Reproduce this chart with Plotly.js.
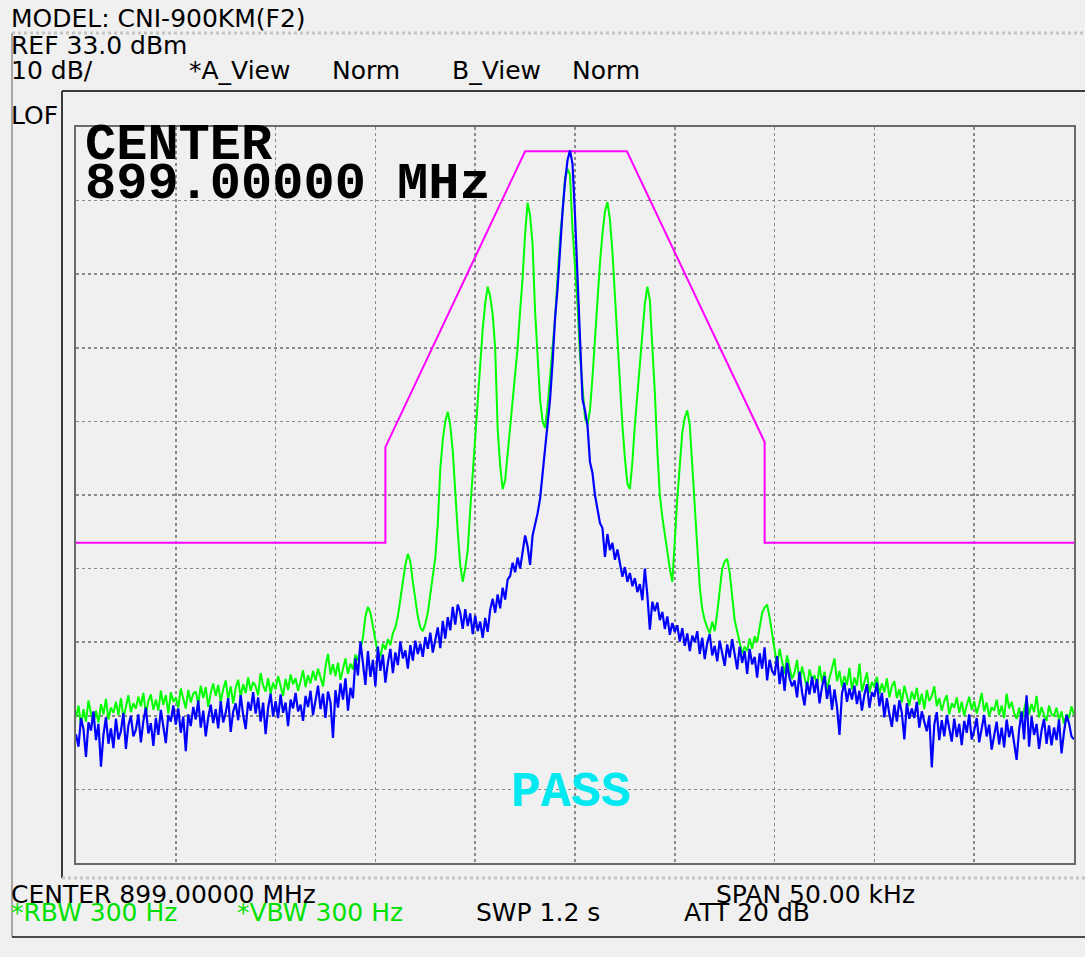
<!DOCTYPE html>
<html>
<head>
<meta charset="utf-8">
<script src="https://cdn.plot.ly/plotly-3.0.1.min.js"></script>
<style>
html,body{margin:0;padding:0;background:#f0f0f0;}
#chart{width:1085px;height:957px;}
</style>
</head>
<body>
<div id="chart"></div>
<script>
// Sweep: center 899.00000 MHz, span 50 kHz -> offsets in kHz
var freqStart = -25;      // kHz
var freqStep = 0.125;     // kHz per trace point
var refLevel = 33;        // dBm (top of screen)
var dbPerDiv = 10;

// Trace B (blue), dBm
var traceBlue = [
-49.5,-51.2,-47.3,-48.8,-52.6,-47.9,-49.0,-46.4,
-50.3,-48.1,-53.9,-49.6,-47.2,-50.8,-48.7,-51.4,
-47.4,-50.2,-49.1,-46.6,-51.5,-48.3,-47.0,-49.8,
-48.9,-46.8,-50.6,-47.7,-45.9,-49.4,-48.0,-51.1,
-47.3,-49.6,-46.2,-48.5,-50.7,-46.9,-47.8,-45.6,
-48.2,-46.0,-49.3,-47.1,-51.8,-46.8,-48.4,-45.8,
-47.5,-44.9,-48.6,-46.3,-49.8,-47.2,-45.5,-48.0,
-46.1,-48.7,-45.0,-47.9,-46.6,-44.6,-49.2,-46.4,
-45.3,-47.6,-44.2,-46.9,-48.8,-45.1,-46.3,-43.8,
-46.7,-44.5,-47.8,-45.2,-49.5,-45.9,-44.0,-47.1,
-45.0,-47.3,-44.1,-46.6,-45.2,-48.4,-44.8,-46.0,
-43.9,-46.4,-45.5,-47.7,-44.3,-45.8,-43.6,-46.9,
-44.8,-42.9,-46.1,-44.0,-47.3,-43.7,-45.2,-50.0,
-43.5,-45.9,-42.6,-44.8,-41.9,-46.3,-43.2,-44.6,
-39.2,-41.5,-36.9,-40.1,-42.8,-38.2,-41.7,-39.4,
-43.0,-37.6,-40.9,-38.7,-42.5,-39.8,-37.9,-41.2,
-38.4,-40.1,-36.9,-39.2,-38.1,-40.6,-37.4,-39.5,
-36.8,-38.6,-37.2,-39.0,-36.3,-37.9,-35.7,-38.4,
-36.9,-35.0,-37.8,-34.1,-36.5,-33.6,-35.4,-32.2,
-34.6,-31.9,-33.0,-35.2,-32.5,-34.8,-33.1,-35.9,
-33.4,-35.5,-34.2,-36.4,-33.7,-35.6,-32.6,-31.1,
-33.0,-30.5,-32.4,-29.6,-31.2,-28.5,-28.0,-26.2,
-27.5,-25.5,-27.0,-25.0,-22.5,-24.0,-26.5,-22.5,
-21.0,-19.5,-17.5,-14.0,-11.0,-8.0,-4.0,1.0,
7.0,11.0,16.5,21.5,25.5,28.5,29.8,28.0,
21.0,13.0,5.0,-4.0,-5.5,-7.5,-12.5,-14.0,
-17.0,-19.0,-20.8,-21.5,-25.4,-22.3,-24.5,-23.5,
-25.8,-24.4,-26.5,-28.1,-26.8,-28.8,-27.6,-29.4,
-28.3,-30.2,-29.1,-31.3,-27.0,-30.6,-35.3,-31.5,
-32.8,-31.6,-34.0,-32.9,-35.2,-33.5,-36.0,-34.4,
-35.6,-34.7,-36.9,-35.1,-37.5,-35.8,-38.2,-36.1,
-37.0,-35.5,-38.6,-36.4,-39.3,-37.1,-35.9,-38.8,
-37.5,-39.6,-36.8,-38.4,-40.2,-37.3,-39.1,-36.6,
-38.9,-40.7,-37.6,-39.8,-38.2,-41.3,-37.9,-40.0,
-39.0,-41.8,-38.5,-40.6,-37.7,-42.2,-39.4,-40.9,
-41.5,-38.9,-42.7,-40.3,-43.6,-39.8,-41.9,-43.0,
-42.2,-44.5,-41.0,-43.8,-45.6,-42.4,-44.1,-41.7,
-43.9,-42.0,-45.3,-43.1,-41.6,-44.7,-42.8,-46.2,
-43.4,-45.8,-49.6,-44.0,-42.5,-45.1,-43.3,-44.8,
-42.9,-45.4,-43.6,-46.3,-44.1,-42.7,-45.9,-43.8,
-44.4,-42.5,-45.7,-43.9,-47.2,-44.6,-46.8,-48.5,
-45.5,-47.8,-44.9,-46.6,-50.2,-45.3,-47.4,-46.0,
-47.3,-45.1,-48.6,-46.4,-47.8,-49.1,-47.0,-54.0,
-48.2,-46.5,-50.3,-47.6,-49.8,-46.9,-48.7,-50.5,
-47.4,-49.9,-48.1,-51.0,-47.7,-49.3,-46.8,-50.2,
-49.0,-47.3,-50.6,-48.5,-46.9,-49.8,-48.2,-51.6,
-49.5,-47.8,-50.9,-48.6,-51.3,-47.5,-49.9,-48.4,
-50.7,-53.0,-48.9,-46.4,-50.2,-44.2,-51.2,-47.1,
-49.6,-48.1,-51.5,-49.0,-47.4,-50.8,-48.3,-51.0,
-48.6,-50.3,-47.5,-52.1,-49.2,-46.9,-48.0,-49.8,
-50.2
];

// Trace A (green), dBm
var traceGreen = [
-47.2,-45.6,-48.3,-46.1,-47.8,-44.9,-46.7,-48.0,
-46.3,-47.9,-45.4,-46.8,-44.7,-47.5,-45.9,-46.6,
-45.1,-46.9,-44.6,-47.3,-45.8,-44.2,-46.5,-45.3,
-46.0,-44.4,-45.7,-43.9,-46.8,-45.0,-44.1,-46.2,
-44.8,-46.3,-43.6,-45.5,-44.2,-46.7,-43.8,-45.1,
-44.5,-45.9,-43.3,-44.8,-46.0,-43.5,-45.2,-44.0,
-43.7,-45.4,-42.9,-44.6,-43.1,-45.8,-43.9,-42.6,
-44.3,-42.8,-45.1,-43.4,-42.2,-44.7,-43.0,-45.3,
-43.2,-42.1,-44.5,-42.7,-43.9,-41.8,-43.6,-42.4,
-43.0,-44.2,-41.2,-42.9,-43.7,-41.9,-44.0,-42.5,
-43.4,-41.6,-42.8,-44.3,-42.0,-43.5,-41.4,-42.7,
-41.9,-43.6,-42.3,-40.8,-43.1,-41.5,-42.6,-40.9,
-42.2,-40.6,-41.8,-43.0,-40.3,-38.6,-41.4,-40.0,
-41.6,-39.8,-42.1,-40.4,-39.2,-41.3,-39.9,-40.7,
-38.7,-39.5,-38.0,-36.4,-33.5,-32.2,-33.0,-34.8,
-36.5,-38.5,-39.0,-37.2,-38.0,-36.6,-37.4,-35.8,
-35.0,-33.5,-31.2,-29.0,-26.5,-25.0,-26.0,-28.8,
-31.5,-33.5,-35.0,-35.5,-34.5,-33.0,-30.5,-28.0,
-25.5,-21.0,-13.5,-9.5,-7.0,-5.7,-7.5,-11.0,
-17.0,-22.0,-26.5,-28.8,-27.0,-24.5,-19.0,-14.0,
-9.5,-4.0,0.5,5.5,9.0,11.3,10.0,7.5,
3.0,-8.0,-13.0,-16.2,-15.0,-11.5,-8.0,-4.5,
-1.0,3.0,8.0,12.5,18.5,22.7,21.0,17.0,
8.0,1.0,-4.0,-7.0,-7.9,-5.0,-1.0,3.0,
7.0,12.5,18.0,21.5,26.0,27.3,26.5,19.0,
14.5,9.0,2.0,-3.0,-6.5,-7.5,-5.5,-1.0,
4.5,10.0,14.5,18.5,21.5,22.8,20.5,16.0,
10.0,4.0,-2.0,-7.5,-12.0,-15.5,-16.2,-12.5,
-7.5,-3.5,1.0,5.0,9.0,11.3,9.5,3.0,
-3.0,-11.0,-17.0,-20.0,-22.5,-24.5,-27.0,-28.8,
-22.5,-17.5,-13.0,-8.5,-6.5,-5.5,-7.5,-12.5,
-18.5,-24.0,-29.5,-32.5,-34.0,-35.0,-35.8,-34.2,
-35.5,-33.0,-30.0,-27.0,-26.0,-25.7,-27.5,-31.0,
-34.0,-35.5,-36.8,-38.5,-37.6,-38.2,-36.5,-37.9,
-36.2,-37.0,-35.0,-33.0,-32.3,-31.9,-33.6,-36.0,
-38.5,-40.2,-37.9,-39.6,-41.3,-38.8,-40.5,-42.0,
-41.1,-39.4,-42.6,-40.3,-41.8,-43.2,-40.7,-42.1,
-41.5,-43.0,-40.2,-42.4,-41.0,-43.6,-41.9,-40.6,
-39.2,-42.3,-40.9,-43.1,-41.6,-42.8,-40.5,-43.4,
-41.8,-42.9,-39.9,-43.7,-42.2,-41.1,-43.9,-42.4,
-43.1,-41.7,-44.0,-42.6,-43.8,-41.9,-44.5,-43.0,
-42.3,-44.6,-43.4,-45.2,-42.9,-44.1,-45.6,-43.7,
-44.8,-43.2,-45.5,-44.0,-46.1,-43.5,-45.0,-44.3,
-43.0,-45.7,-44.6,-46.3,-45.0,-44.2,-46.8,-45.3,
-45.9,-44.5,-46.6,-45.1,-47.0,-45.6,-44.4,-46.2,
-45.0,-46.7,-45.5,-43.9,-46.4,-45.2,-47.1,-45.8,
-46.3,-44.8,-46.9,-45.6,-47.3,-44.0,-46.0,-45.1,
-46.6,-47.4,-45.9,-47.8,-46.2,-44.6,-46.8,-45.4,
-46.5,-44.3,-47.2,-45.8,-46.9,-47.7,-45.6,-46.8,
-47.0,-45.9,-47.6,-46.4,-48.1,-46.8,-47.3,-45.7,
-46.9
];

// Limit mask (magenta)
var maskFreq  = [-25, -9.5, -9.5, -2.5, 2.6, 9.5, 9.5, 25];
var maskLevel = [-23.5, -23.5, -10.5, 29.7, 29.7, -9.8, -23.5, -23.5];

// Screen texts
var headerModel = "MODEL: CNI-900KM(F2)";
var headerRef = "REF 33.0 dBm";
var headerScale = "10 dB/";
var headerViews = ["*A_View", "Norm", "B_View", "Norm"];
var sideLabel = "LOF";
var centerBig = ["CENTER", "899.00000 MHz"];
var verdict = "PASS";
var footer1 = ["CENTER 899.00000 MHz", "SPAN 50.00 kHz"];
var footer2 = ["*RBW 300 Hz", "*VBW 300 Hz", "SWP 1.2 s", "ATT 20 dB"];

function sweepAxis(n){ var a=[]; for(var i=0;i<n;i++){a.push(freqStart+i*freqStep);} return a; }

// plot area in page pixels
var PL=76, PR=1074, PT=127, PB=863;
function px(x){ return (x-PL)/(PR-PL); }
function py(y){ return (PB-y)/(PB-PT); }

var smallFont = "DejaVu Sans, Verdana, sans-serif";
var bigFont = "Liberation Mono, Courier New, monospace";
var SF = 25;

function ann(text, x, yc, size, color, family, weight){
  return {text:text, xref:'paper', yref:'paper', x:px(x), y:py(yc),
    xanchor:'left', yanchor:'middle', showarrow:false,
    font:{family:family, size:size, color:color, weight:weight||'normal'}};
}

var annotations = [
  ann(headerModel, 9, 19, SF, '#000', smallFont),
  ann(headerRef, 9, 45.5, SF, '#000', smallFont),
  ann(headerScale, 9, 70.5, SF, '#000', smallFont),
  ann(headerViews[0], 187, 70.5, SF, '#000', smallFont),
  ann(headerViews[1], 330, 70.5, SF, '#000', smallFont),
  ann(headerViews[2], 450, 70.5, SF, '#000', smallFont),
  ann(headerViews[3], 570, 70.5, SF, '#000', smallFont),
  ann(sideLabel, 9, 115, SF, '#000', smallFont),
  ann(centerBig[0], 83, 146, 52, '#000', bigFont, 'bold'),
  ann(centerBig[1], 83, 185, 52, '#000', bigFont, 'bold'),
  ann(verdict, 509, 792, 50, '#00e8f0', bigFont, 'bold'),
  ann(footer1[0], 9, 894, SF, '#000', smallFont),
  ann(footer1[1], 714, 894, SF, '#000', smallFont),
  ann(footer2[0], 9, 913, SF, '#00e000', smallFont),
  ann(footer2[1], 235, 913, SF, '#00e000', smallFont),
  ann(footer2[2], 474, 913, SF, '#000', smallFont),
  ann(footer2[3], 682, 913, SF, '#000', smallFont)
];

function hline(x0,x1,y,color,w,dash){ return {type:'line', xref:'paper', yref:'paper', x0:px(x0), x1:px(x1), y0:py(y), y1:py(y), line:{color:color,width:w,dash:dash||'solid'}, layer:'above'}; }
function vline(x,y0,y1,color,w){ return {type:'line', xref:'paper', yref:'paper', x0:px(x), x1:px(x), y0:py(y0), y1:py(y1), line:{color:color,width:w}, layer:'above'}; }

var shapes = [
  hline(12, 1085, 33, '#c4c4c4', 3, 'dot'),
  vline(12, 33, 937, '#a8a8a8', 2),
  hline(62, 1085, 91, '#3a3a3a', 2),
  vline(62, 91, 878, '#3a3a3a', 2),
  hline(62, 1085, 878, '#c4c4c4', 3, 'dot'),
  hline(12, 1085, 937, '#4a4a4a', 2)
];

var xs = sweepAxis(traceBlue.length);
var data = [
  {x:maskFreq, y:maskLevel, type:'scatter', mode:'lines', line:{color:'#ff00ff', width:2}, hoverinfo:'skip', cliponaxis:true},
  {x:sweepAxis(traceGreen.length), y:traceGreen, type:'scatter', mode:'lines', line:{color:'#00ff00', width:2}, hoverinfo:'skip'},
  {x:xs, y:traceBlue, type:'scatter', mode:'lines', line:{color:'#0000ff', width:2.2}, hoverinfo:'skip'}
];

var layout = {
  width:1085, height:957,
  margin:{l:PL, r:1085-PR, t:PT, b:957-PB, pad:0},
  paper_bgcolor:'#f0f0f0', plot_bgcolor:'#f0f0f0',
  showlegend:false,
  xaxis:{range:[freqStart, -freqStart], dtick:5, tick0:0, showticklabels:false, ticks:'',
    showgrid:true, gridcolor:'#8a8a8a', gridwidth:1.5, griddash:'dot', zeroline:false,
    showline:true, mirror:true, linecolor:'#6a6a6a', linewidth:2, fixedrange:true},
  yaxis:{range:[refLevel-10*dbPerDiv, refLevel], dtick:dbPerDiv, tick0:refLevel, showticklabels:false, ticks:'',
    showgrid:true, gridcolor:'#8a8a8a', gridwidth:1.5, griddash:'dot', zeroline:false,
    showline:true, mirror:true, linecolor:'#6a6a6a', linewidth:2, fixedrange:true},
  annotations:annotations,
  shapes:shapes
};

Plotly.newPlot('chart', data, layout, {staticPlot:true, displayModeBar:false});
</script>
</body>
</html>
